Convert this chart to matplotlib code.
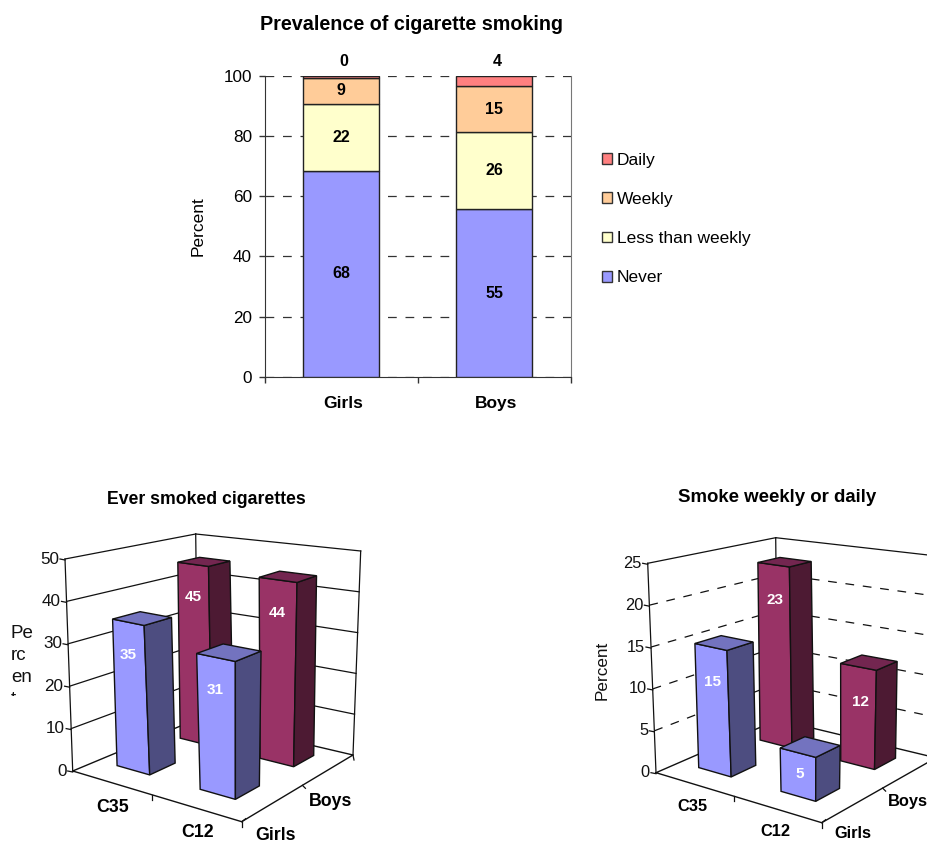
import matplotlib
matplotlib.use('Agg')
import matplotlib.pyplot as plt
import matplotlib.transforms as mtrans
from matplotlib.patches import Polygon, Patch
from matplotlib.ticker import FixedLocator
import numpy as np

plt.rcParams['font.family'] = ['Liberation Sans', 'DejaVu Sans']

# top chart data
groups = ['Girls', 'Boys']
never = [68.4, 55.6]
less_weekly = [22.2, 25.7]
weekly = [8.6, 15.1]
daily = [0.8, 3.6]
never_labels = ['68', '55']
less_labels = ['22', '26']
weekly_labels = ['9', '15']
daily_labels = ['0', '4']
stack_names = ['Never', 'Less than weekly', 'Weekly', 'Daily']
stack_colors = ['#9999FF', '#FFFFCC', '#FFCC99', '#FF8080']

# 3d charts data, order is C35 then C12
ever_girls = [35, 31]
ever_boys = [45, 44]
ever_ticks = [0, 10, 20, 30, 40, 50]
smoke_girls = [15, 5]
smoke_boys = [23, 12]
smoke_ticks = [0, 5, 10, 15, 20, 25]

W, H = 928, 842
fig = plt.figure(figsize=(W / 100, H / 100), dpi=100)

# ---- stacked bars ----
ax = fig.add_axes([264.6 / W, 1 - 377 / H, 306 / W, 301.5 / H])
x = np.arange(2)
bottom = np.zeros(2)
series = [never, less_weekly, weekly, daily]
series_labels = [never_labels, less_labels, weekly_labels, daily_labels]
for vals, labs, col in zip(series, series_labels, stack_colors):
    bars = ax.bar(x, vals, 0.5, bottom=bottom, color=col, edgecolor='#222222', linewidth=1, zorder=3)
    if col != stack_colors[-1]:
        for b, v, lab, xi in zip(bottom, vals, labs, x):
            ax.text(xi, b + v / 2, lab, ha='center', va='center', fontsize=11.5, fontweight='bold', zorder=4)
    else:
        for lab, xi in zip(labs, x):
            ax.annotate(lab, (xi, 100), xytext=(3, 14), textcoords='offset pixels', ha='center', va='center',
                        fontsize=11.5, fontweight='bold', annotation_clip=False)
    bottom = bottom + np.array(vals)
ax.set_xlim(-0.5, 1.5)
ax.set_ylim(0, 100)
ax.set_yticks([0, 20, 40, 60, 80, 100])
ax.yaxis.grid(True, color='#333333', linestyle=(0, (7, 7)), linewidth=0.9, zorder=1)
ax.set_axisbelow(True)
ax.set_xticks(x)
ax.set_xticklabels(groups, fontsize=12.5, fontweight='bold')
ax.xaxis.set_minor_locator(FixedLocator([-0.5, 0.5, 1.5]))
ax.tick_params(axis='x', which='major', length=0, pad=14)
ax.tick_params(axis='x', which='minor', length=4, color='#333333', width=1)
ax.tick_params(axis='y', length=4, color='#333333', labelsize=12.3, pad=5, width=1)
shift = mtrans.ScaledTranslation(2 / 100, 0, fig.dpi_scale_trans)
for lab in ax.get_xticklabels():
    lab.set_transform(lab.get_transform() + shift)
ax.set_ylabel('Percent', fontsize=12.5, labelpad=13)
ax.spines['left'].set_color('#333333')
ax.spines['bottom'].set_color('#333333')
ax.spines['right'].set_color('#777777')
ax.spines['top'].set_visible(False)
handles = [Patch(facecolor=c, edgecolor='#333333', label=n) for c, n in zip(stack_colors[::-1], stack_names[::-1])]
fig.legend(handles=handles, loc='center left', bbox_to_anchor=(601.7 / W, 1 - 219 / H), frameon=False, fontsize=12.5,
           handlelength=0.575, handleheight=0.575, handletextpad=0.29, labelspacing=1.4, borderpad=0, borderaxespad=0)
fig.text(412 / W, 1 - 24 / H, 'Prevalence of cigarette smoking', ha='center', va='center',
         fontsize=14.2, fontweight='bold')

# ---- 3d charts, drawn on a pixel overlay ----
ov = fig.add_axes([0, 0, 1, 1], facecolor='none')
ov.set_xlim(0, W)
ov.set_ylim(H, 0)
ov.axis('off')


def homography(pts):
    # maps unit square (0,0),(1,0),(1,1),(0,1) to pts
    src = [(0, 0), (1, 0), (1, 1), (0, 1)]
    A, b = [], []
    for (s, t), (px, py) in zip(src, pts):
        A.append([s, t, 1, 0, 0, 0, -s * px, -t * px])
        A.append([0, 0, 0, s, t, 1, -s * py, -t * py])
        b += [px, py]
    return np.append(np.linalg.solve(np.array(A, float), np.array(b, float)), 1).reshape(3, 3)


def draw_3d(floor, top, ticks, girls, boys, dashed, ulims, vlims, offs, tick_size):
    Hf, Ht = homography(floor), homography(top)
    zmax = ticks[-1]

    def pr(u, v, z):
        a = Hf @ [u, v, 1]
        c = Ht @ [u, v, 1]
        a, c = a[:2] / a[2], c[:2] / c[2]
        return a + (c - a) * z / zmax

    ls = (0, (7, 7)) if dashed else '-'
    # wall grid lines
    for t in ticks[1:-1]:
        for p, q in [((0, 0), (0, 1)), ((0, 1), (1, 1))]:
            a, b = pr(*p, t), pr(*q, t)
            ov.plot([a[0], b[0]], [a[1], b[1]], color='#111111', lw=0.9, ls=ls, zorder=2)
    # wall frame
    for p, q in [((0, 0), (0, 1)), ((0, 1), (1, 1))]:
        a, b = pr(*p, zmax), pr(*q, zmax)
        ov.plot([a[0], b[0]], [a[1], b[1]], color='#111111', lw=0.9, zorder=2)
    for c in [(0, 0), (0, 1), (1, 1)]:
        a, b = pr(*c, 0), pr(*c, zmax)
        ov.plot([a[0], b[0]], [a[1], b[1]], color='#111111', lw=0.9, zorder=2)
    # floor
    fl = [pr(0, 0, 0), pr(1, 0, 0), pr(1, 1, 0), pr(0, 1, 0), pr(0, 0, 0)]
    ov.plot([p[0] for p in fl], [p[1] for p in fl], color='#111111', lw=1, zorder=2)
    # floor and value ticks
    for p, dx, dy in [((0.5, 0), 0, 5), ((1, 0.5), 3, 3), ((1, 0), 0, 5), ((1, 0), 4, -3), ((1, 1), 1, 5)]:
        a = pr(*p, 0)
        ov.plot([a[0], a[0] + dx], [a[1], a[1] + dy], color='#111111', lw=0.9, zorder=2)
    for t in ticks:
        a = pr(0, 0, t)
        ov.plot([a[0] - 5, a[0]], [a[1], a[1] + 1], color='#111111', lw=0.9, zorder=2)
        ov.text(a[0] - 6, a[1], str(t), ha='right', va='center', fontsize=tick_size, color='#111111', zorder=2)

    # bars back to front
    z = 3
    for row, vals, cols in [(1, boys, ('#993366', '#4D1A33', '#732650')),
                            (0, girls, ('#9999FF', '#4D4D80', '#7373BF'))]:
        v0, v1 = vlims[row]
        for i, val in enumerate(vals):
            u0, u1 = ulims[i]
            front = [pr(u0, v0, 0), pr(u1, v0, 0), pr(u1, v0, val), pr(u0, v0, val)]
            side = [pr(u1, v0, 0), pr(u1, v1, 0), pr(u1, v1, val), pr(u1, v0, val)]
            roof = [pr(u0, v0, val), pr(u1, v0, val), pr(u1, v1, val), pr(u0, v1, val)]
            for poly, col in zip((front, side, roof), cols):
                ov.add_patch(Polygon(poly, closed=True, facecolor=col, edgecolor='#111111', lw=1, zorder=z))
            p = pr((u0 + u1) / 2, v0, val)
            ph = pr((u0 + u1) / 2, v0, 0)
            ov.text(p[0] + offs[0], p[1] + min(offs[1], (ph[1] - p[1]) / 2), str(val), color='white', fontsize=11,
                    fontweight='bold', ha='center', va='center', zorder=z + 1)
            z += 2


draw_3d(floor=[(72.7, 771), (241.7, 821.7), (353, 755), (198, 718.7)],
        top=[(65, 559), (245, 593), (360.7, 551), (195.7, 534)],
        ticks=ever_ticks, girls=ever_girls, boys=ever_boys, dashed=False,
        ulims=[(0.125, 0.335), (0.64, 0.84)], vlims=[(0.18, 0.375), (0.68, 0.875)], offs=(0, 33), tick_size=12.3)
draw_3d(floor=[(656, 772.7), (821.7, 822.7), (936, 757.8), (777.7, 719.7)],
        top=[(647.7, 563.3), (825, 596), (943, 556.7), (775.7, 537.7)],
        ticks=smoke_ticks, girls=smoke_girls, boys=smoke_boys, dashed=True,
        ulims=[(0.125, 0.335), (0.64, 0.84)], vlims=[(0.18, 0.375), (0.68, 0.875)], offs=(2, 35), tick_size=11.8)

# titles and category names
ov.text(206, 500, 'Ever smoked cigarettes', ha='center', va='center', fontsize=12.7, fontweight='bold')
ov.text(777.5, 497.5, 'Smoke weekly or daily', ha='center', va='center', fontsize=13.4, fontweight='bold')
for tx, ty, s in [(113, 808, 'C35'), (197.7, 832.7, 'C12'), (331, 802, 'Boys'), (276, 835, 'Girls')]:
    ov.text(tx, ty, s, ha='center', va='center', fontsize=12.8, fontweight='bold')
for tx, ty, s in [(692.7, 806.7, 'C35'), (775.7, 831.7, 'C12'), (907.7, 801.7, 'Boys'), (852.7, 834, 'Girls')]:
    ov.text(tx, ty, s, ha='center', va='center', fontsize=11.8, fontweight='bold')

# the wrapped axis title is cut off in its last line
yl = ov.text(11, 625, 'Pe\nrc\nen\nt', ha='left', va='top', fontsize=13.5, linespacing=1.38, color='#111111')
yl.set_clip_box(mtrans.Bbox([[0, H - 696], [60, H]]))
yl.set_clip_on(True)
ov.text(602, 670, 'Percent', rotation=90, ha='center', va='center', fontsize=12.3, color='#111111')

fig.savefig('out.png', dpi=100)
